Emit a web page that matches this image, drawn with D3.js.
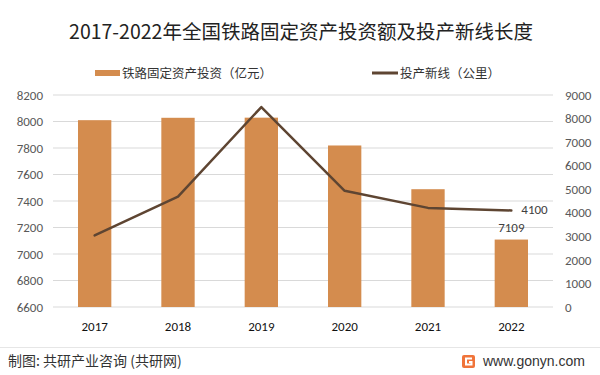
<!DOCTYPE html>
<html>
<head>
<meta charset="utf-8">
<script src="https://cdn.jsdelivr.net/npm/d3@7"></script>
<style>
  body { margin: 0; background: #fff; }
  svg { font-family: "Microsoft YaHei", "Noto Sans CJK SC", sans-serif; }
</style>
</head>
<body>
<svg id="chart" width="600" height="375"></svg>
<script>
// datos
const years = ["2017", "2018", "2019", "2020", "2021", "2022"];
const inversion = [8010, 8028, 8029, 7819, 7489, 7109];   // 亿元
const nuevasLineas = [3038, 4683, 8489, 4933, 4208, 4100]; // 公里
const ticksIzq = [6600, 6800, 7000, 7200, 7400, 7600, 7800, 8000, 8200];
const ticksDer = [0, 1000, 2000, 3000, 4000, 5000, 6000, 7000, 8000, 9000];

const colorBarra = "#d48c4e";
const colorLinea = "#5e4532";
const fuenteNum = "Calibri, Carlito, 'Liberation Sans', sans-serif";

const svg = d3.select("#chart");
const margin = { left: 53, right: 47, top: 95, bottom: 68 };
const width = 600, height = 375;

const x = d3.scaleBand()
    .domain(years)
    .range([margin.left, width - margin.right])
    .paddingInner(0.6).paddingOuter(0.3);

const yIzq = d3.scaleLinear().domain([6600, 8200]).range([height - margin.bottom, margin.top]);
const yDer = d3.scaleLinear().domain([0, 9000]).range([height - margin.bottom, margin.top]);

// titulo
svg.append("text")
    .attr("x", 301).attr("y", 39)
    .attr("text-anchor", "middle")
    .style("font-size", "19.5px")
    .style("fill", "#222")
    .text("2017-2022年全国铁路固定资产投资额及投产新线长度");

// grid
svg.append("g")
    .selectAll("line")
    .data(ticksIzq)
    .join("line")
    .attr("x1", margin.left).attr("x2", width - margin.right)
    .attr("y1", d => yIzq(d)).attr("y2", d => yIzq(d))
    .attr("stroke", "#d9d9d9").attr("stroke-width", 1);

// eje izquierdo
svg.append("g")
    .attr("transform", `translate(${margin.left - 10},0)`)
    .call(d3.axisLeft(yIzq).tickValues(ticksIzq).tickFormat(d3.format("d")).tickSize(0).tickPadding(0))
    .call(g => g.select(".domain").remove())
    .selectAll("text")
    .style("font-size", "13px").style("fill", "#595959")
    .style("font-family", fuenteNum);

// eje derecho
svg.append("g")
    .attr("transform", `translate(${width - margin.right + 12},0)`)
    .call(d3.axisRight(yDer).tickValues(ticksDer).tickFormat(d3.format("d")).tickSize(0).tickPadding(0))
    .call(g => g.select(".domain").remove())
    .selectAll("text")
    .style("font-size", "13px").style("fill", "#595959")
    .style("font-family", fuenteNum);

// eje x
svg.append("g")
    .attr("transform", `translate(0,${height - margin.bottom + 12})`)
    .call(d3.axisBottom(x).tickSize(0).tickPadding(0))
    .call(g => g.select(".domain").remove())
    .selectAll("text")
    .attr("dy", "0.9em")
    .style("font-size", "13px").style("fill", "#111")
    .style("font-family", fuenteNum);

// barras
svg.append("g")
    .selectAll("rect")
    .data(inversion)
    .join("rect")
    .attr("x", (d, i) => x(years[i]))
    .attr("y", d => yIzq(d))
    .attr("width", x.bandwidth())
    .attr("height", d => yIzq(6600) - yIzq(d))
    .attr("fill", colorBarra);

// linea
const linea = d3.line()
    .x((d, i) => x(years[i]) + x.bandwidth() / 2)
    .y(d => yDer(d));

svg.append("path")
    .datum(nuevasLineas)
    .attr("d", linea)
    .attr("fill", "none")
    .attr("stroke", colorLinea)
    .attr("stroke-width", 2.5)
    .attr("stroke-linecap", "round")
    .attr("stroke-linejoin", "round");

// etiquetas ultimo año
const ult = years.length - 1;
svg.append("text")
    .attr("x", x(years[ult]) + x.bandwidth() / 2)
    .attr("y", yIzq(inversion[ult]) - 8)
    .attr("text-anchor", "middle")
    .style("font-size", "13px").style("fill", "#404040")
    .style("font-family", fuenteNum)
    .text(inversion[ult]);

svg.append("text")
    .attr("x", x(years[ult]) + x.bandwidth() / 2 + 10)
    .attr("y", yDer(nuevasLineas[ult]) + 4)
    .style("font-size", "13px").style("fill", "#404040")
    .style("font-family", fuenteNum)
    .text(nuevasLineas[ult]);

// leyenda
const leyenda = svg.append("g");
leyenda.append("rect")
    .attr("x", 95).attr("y", 70).attr("width", 25).attr("height", 6)
    .attr("fill", colorBarra);
leyenda.append("text")
    .attr("x", 122).attr("y", 78)
    .style("font-size", "12.5px").style("fill", "#333")
    .text("铁路固定资产投资（亿元）");
leyenda.append("line")
    .attr("x1", 372).attr("x2", 398).attr("y1", 73).attr("y2", 73)
    .attr("stroke", colorLinea).attr("stroke-width", 3);
leyenda.append("text")
    .attr("x", 400).attr("y", 78)
    .style("font-size", "12.5px").style("fill", "#333")
    .text("投产新线（公里）");

// pie
svg.append("line")
    .attr("x1", 0).attr("x2", 600).attr("y1", 347.5).attr("y2", 347.5)
    .attr("stroke", "#e6e6e6");
svg.append("text")
    .attr("x", 8).attr("y", 366)
    .style("font-size", "14px").style("fill", "#333")
    .text("制图: 共研产业咨询 (共研网)");

const logo = svg.append("g").attr("transform", "translate(462,355)");
logo.append("rect").attr("width", 13).attr("height", 13).attr("rx", 2).attr("fill", "#f0743a");
logo.append("path").attr("d", "M10 3.5 H4 V9.5 H9.5 V7 H7").attr("fill", "none")
    .attr("stroke", "#fff").attr("stroke-width", 2);
svg.append("text")
    .attr("x", 483).attr("y", 366)
    .style("font-size", "14px").style("fill", "#333")
    .style("font-family", "'Liberation Sans', Arial, sans-serif")
    .text("www.gonyn.com");
</script>
</body>
</html>
